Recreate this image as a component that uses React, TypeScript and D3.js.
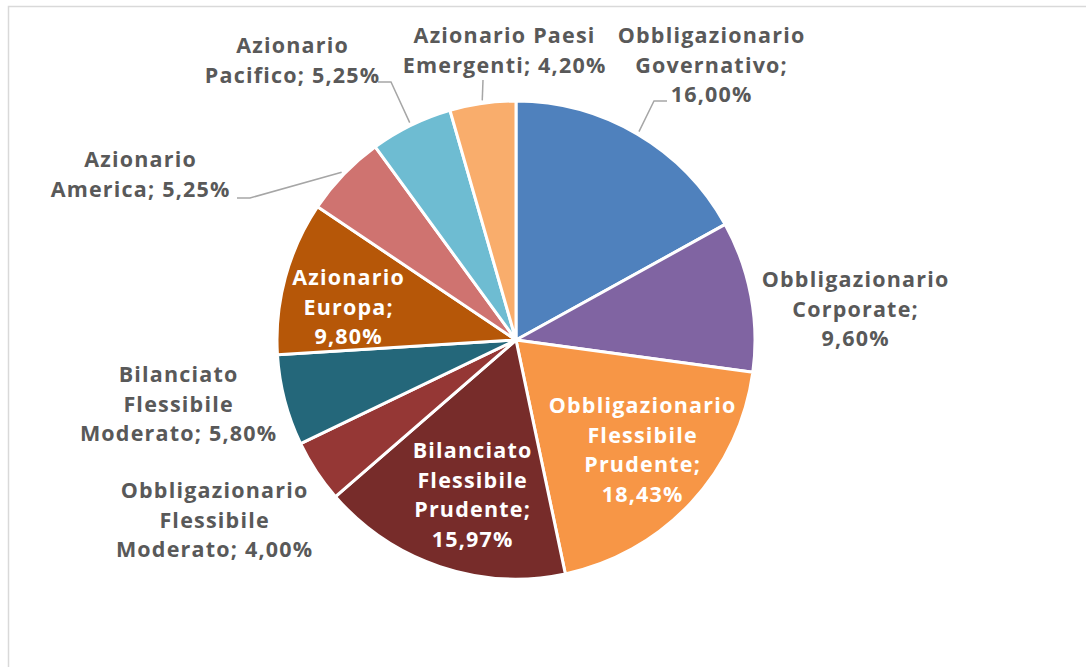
import React from "react";
import * as d3 from "d3";

const categories = [
  "Obbligazionario Governativo",
  "Obbligazionario Corporate",
  "Obbligazionario Flessibile Prudente",
  "Bilanciato Flessibile Prudente",
  "Obbligazionario Flessibile Moderato",
  "Bilanciato Flessibile Moderato",
  "Azionario Europa",
  "Azionario America",
  "Azionario Pacifico",
  "Azionario Paesi Emergenti",
];
const values = [16.0, 9.6, 18.43, 15.97, 4.0, 5.8, 9.8, 5.25, 5.25, 4.2];
const valueLabels = ["16,00%", "9,60%", "18,43%", "15,97%", "4,00%", "5,80%", "9,80%", "5,25%", "5,25%", "4,20%"];
const labelLines = [
  ["Obbligazionario", "Governativo;", "16,00%"],
  ["Obbligazionario", "Corporate;", "9,60%"],
  ["Obbligazionario", "Flessibile", "Prudente;", "18,43%"],
  ["Bilanciato", "Flessibile", "Prudente;", "15,97%"],
  ["Obbligazionario", "Flessibile", "Moderato; 4,00%"],
  ["Bilanciato", "Flessibile", "Moderato; 5,80%"],
  ["Azionario", "Europa;", "9,80%"],
  ["Azionario", "America; 5,25%"],
  ["Azionario", "Pacifico; 5,25%"],
  ["Azionario Paesi", "Emergenti; 4,20%"],
];
const colors = [
  "#4F81BD", "#8064A2", "#F79646", "#772C2A", "#953735",
  "#24677A", "#B65708", "#CF7370", "#6EBCD2", "#F9AD6C",
];
// layout: label center x, first baseline, inside (white) or outside
const labelLayout = [
  { x: 711, y: 43, inside: false },
  { x: 855, y: 287, inside: false },
  { x: 642, y: 413, inside: true },
  { x: 472, y: 458, inside: true },
  { x: 214, y: 498, inside: false },
  { x: 178, y: 382, inside: false },
  { x: 348, y: 285, inside: true },
  { x: 140, y: 167, inside: false },
  { x: 292, y: 53, inside: false },
  { x: 504, y: 43, inside: false },
];
// leader lines: elbow and end points (null = none)
const leaders: (number[][] | null)[] = [
  [[654, 101], [667, 101]],
  null, null, null, null, null, null,
  [[250, 198], [237, 198]],
  [[391, 82], [378, 82]],
  [[483, 80]],
];

const W = 1086, H = 667;
const cx = 516, cy = 340, R = 239;
const lineH = 29.5;

export default function App() {
  const pie = d3.pie<number>().sort(null).value((d) => d);
  const arcs = pie(values);
  const arc = d3.arc<d3.PieArcDatum<number>>().innerRadius(0).outerRadius(R);
  const edge = d3.arc<d3.PieArcDatum<number>>().innerRadius(242).outerRadius(242);

  return (
    <svg width={W} height={H} style={{ position: "absolute", left: 0, top: 0, background: "#fff" }}
      fontFamily="'Open Sans', sans-serif">
      <rect x={8.5} y={6.5} width={1200} height={800} fill="#fff" stroke="#d9d9d9" strokeWidth={1.5} />
      <g transform={`translate(${cx},${cy})`}>
        {arcs.map((a, i) => (
          <path key={categories[i]} d={arc(a) || ""} fill={colors[i]} stroke="#fff" strokeWidth={3} strokeLinejoin="round" />
        ))}
      </g>
      {arcs.map((a, i) => {
        const l = leaders[i];
        if (!l) return null;
        const [sx, sy] = edge.centroid(a);
        const pts = [[sx + cx, sy + cy], ...l];
        return (
          <polyline key={"l" + i} points={pts.map((p) => p.join(",")).join(" ")}
            fill="none" stroke="#a6a6a6" strokeWidth={1.5} />
        );
      })}
      {labelLines.map((lines, i) => {
        const lay = labelLayout[i];
        return (
          <text key={"t" + i} x={lay.x} y={lay.y} textAnchor="middle" fontSize={21.5} fontWeight={700}
            letterSpacing={1.2} fill={lay.inside ? "#ffffff" : "#595959"}>
            {lines.map((ln, j) => (
              <tspan key={j} x={lay.x + 0.6} y={lay.y + j * lineH}>{ln}</tspan>
            ))}
          </text>
        );
      })}
    </svg>
  );
}
